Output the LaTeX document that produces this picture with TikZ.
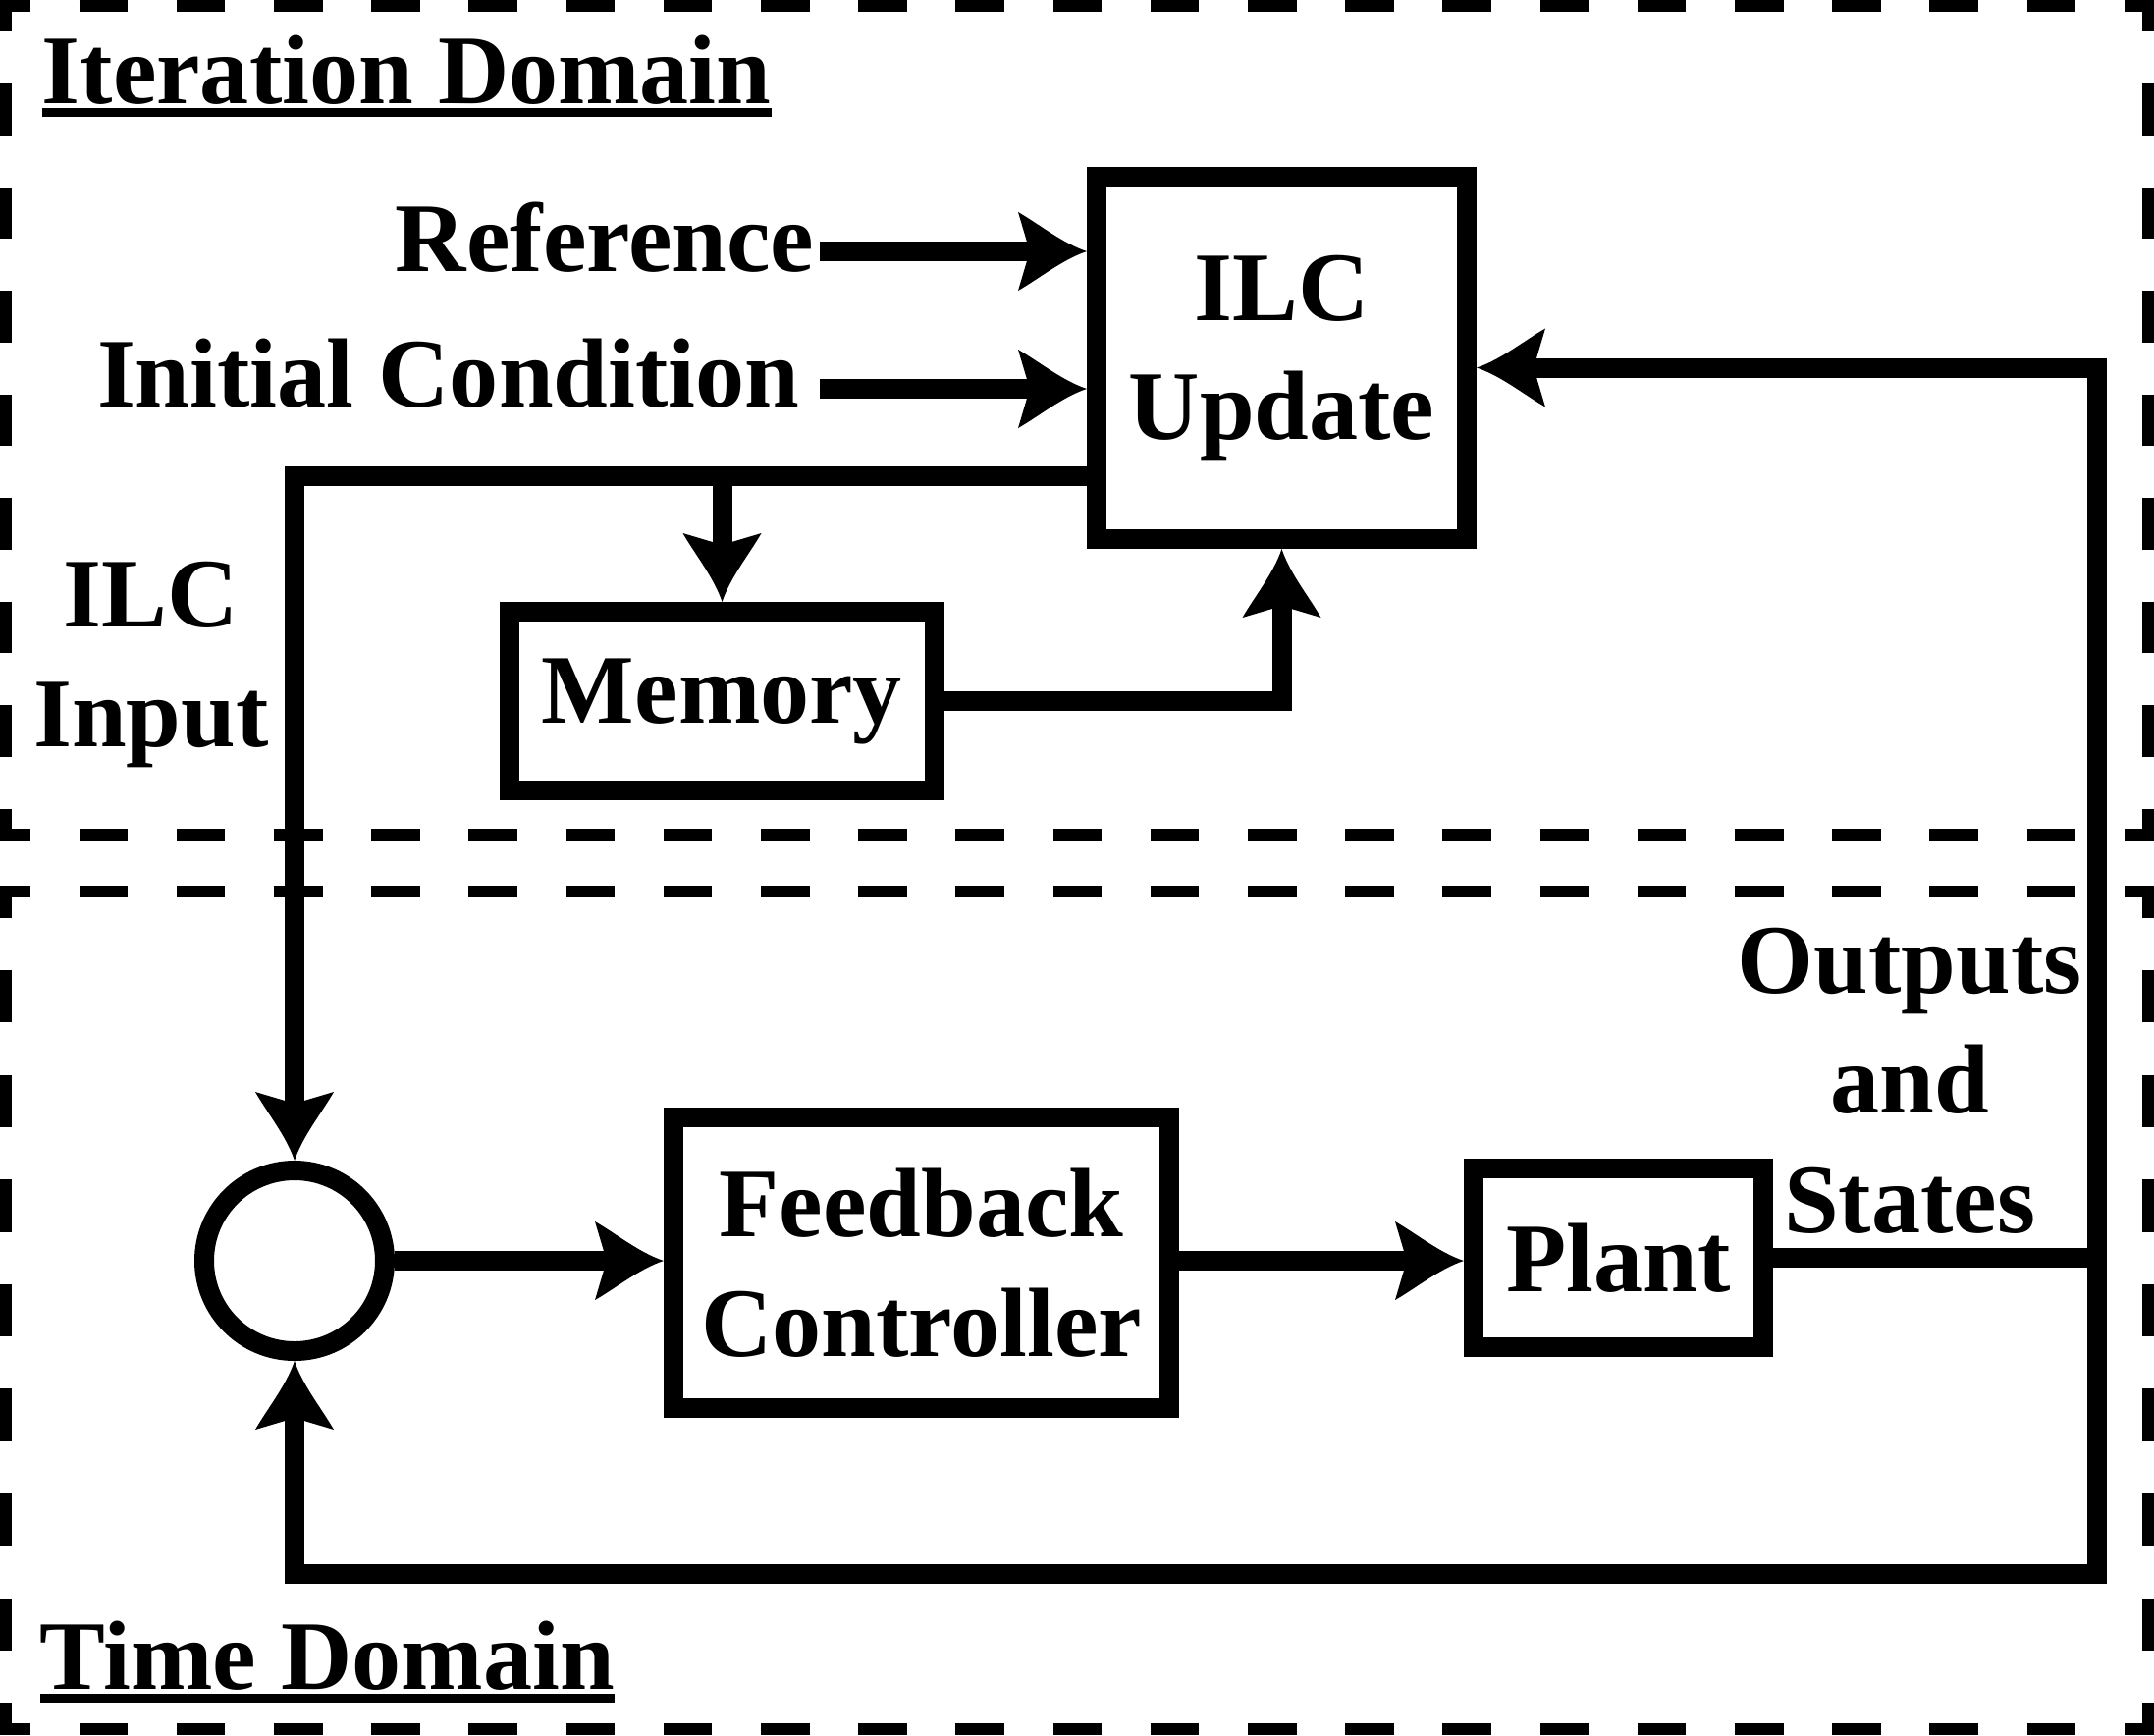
\documentclass[tikz,border=0pt]{standalone}
\usepackage{fontspec}
\setmainfont{Liberation Serif}
\usetikzlibrary{positioning,arrows.meta}
\newcommand{\domainline}[1]{\setbox0=\hbox{#1}\rlap{\rule[-1.4mm]{\wd0}{0.9mm}}\box0}
% arrow head with hollow-curved sides
\pgfdeclarearrow{
  name=ILCbarb,
  parameters={\the\pgfarrowlength,\the\pgfarrowwidth},
  setup code={
    \pgfarrowssettipend{0pt}
    \pgfarrowssetbackend{-\pgfarrowlength}
    \pgfarrowssetlineend{-.7\pgfarrowlength}
    \pgfarrowssavethe\pgfarrowlength
    \pgfarrowssavethe\pgfarrowwidth
  },
  drawing code={
    \pgfpathmoveto{\pgfpointorigin}
    \pgfpathcurveto{\pgfpoint{-.35\pgfarrowlength}{.1\pgfarrowwidth}}{\pgfpoint{-.7\pgfarrowlength}{.35\pgfarrowwidth}}{\pgfpoint{-\pgfarrowlength}{.5\pgfarrowwidth}}
    \pgfpathlineto{\pgfpoint{-.83\pgfarrowlength}{0pt}}
    \pgfpathlineto{\pgfpoint{-\pgfarrowlength}{-.5\pgfarrowwidth}}
    \pgfpathcurveto{\pgfpoint{-.7\pgfarrowlength}{-.35\pgfarrowwidth}}{\pgfpoint{-.35\pgfarrowlength}{-.1\pgfarrowwidth}}{\pgfpointorigin}
    \pgfpathclose
    \pgfusepathqfill
  },
  defaults={length=7mm, width=8mm}
}
\tikzset{
  lbl/.style={font=\fontsize{28.5pt}{34.7pt}\selectfont\bfseries, align=center, inner sep=0pt},
  block/.style={lbl, draw, rectangle, line width=2mm},
  sumnode/.style={draw, circle, line width=2mm, minimum size=18.4mm, inner sep=0pt},
  wire/.style={line width=2mm},
  sig/.style={wire, -{ILCbarb[length=7mm, width=8mm]}},
  domainh/.style={line width=1.2mm, dash pattern=on 4.96mm off 4.96mm, dash phase=1.86mm},
  domainv/.style={line width=1.2mm, dash pattern=on 5.275mm off 5.275mm, dash phase=2.64mm},
}

\begin{document}
\begin{tikzpicture}[x=0.1mm, y=-0.1mm]
  \useasboundingbox (0,0) rectangle (2194,1767);

  % iteration and time domains
  \draw[domainh] (0,6) -- (2194,6);
  \draw[domainh] (0,850) -- (2194,850);
  \draw[domainv] (6,6) -- (6,850);
  \draw[domainv] (2188,6) -- (2188,850);
  \draw[domainh] (0,908) -- (2194,908);
  \draw[domainh] (0,1761) -- (2194,1761);
  \draw[domainv, dash pattern=on 5.33mm off 5.33mm, dash phase=2.66mm] (6,908) -- (6,1761);
  \draw[domainv, dash pattern=on 5.33mm off 5.33mm, dash phase=2.66mm] (2188,908) -- (2188,1761);

  \node[lbl, anchor=base west] (iterdom) at (42,105) {\domainline{Iteration Domain}};
  \node[lbl, anchor=base west] (timedom) at (40,1720) {\domainline{Time Domain}};

  \node[block, minimum width=37.7mm, minimum height=36.9mm] (ilc) at (1305.5,364.5) {ILC\\Update};
  \node[block, minimum width=43.3mm, minimum height=18.2mm] (mem) at (735.5,714) {Memory};
  \node[sumnode] (sum) at (300,1284) {};
  \node[block, minimum width=50.5mm, minimum height=29.6mm] (fc) at (938.5,1286) {Feedback\\Controller};
  \node[block, minimum width=29.5mm, minimum height=18.2mm] (plant) at (1648.5,1281) {Plant};

  \node[lbl, anchor=base east, inner xsep=0.5mm] (ref) at (835,276) {Reference};
  \node[lbl, anchor=base east, inner xsep=2mm] (init) at (835,414) {Initial Condition};
  \node[lbl] (ilcin) at (154,677) {ILC\\Input};
  \node[lbl] (outs) at (1945,1101) {Outputs\\and\\States};

  \coordinate (split) at (735.5,485);
  \coordinate (tap) at (2136,1285);
  \coordinate (ret) at (2136,1603);

  \draw[sig] ([yshift=2mm]ref.base east) -- ([yshift=2mm]ref.base east -| ilc.west);
  \draw[sig] ([yshift=1.8mm]init.base east) -- ([yshift=1.8mm]init.base east -| ilc.west);
  \draw[sig] (ilc.west |- split) -| (sum.north);
  \draw[sig] (split) -- (mem.north);
  \draw[sig] (mem.east) -| (ilc.south);

  \draw[sig] (sum.east) -- (sum.east -| fc.west);
  \draw[sig] (fc.east |- sum.east) -- (sum.east -| plant.west);
  \draw[wire] (plant.east) -- (plant.east -| tap);
  \draw[sig] (tap |- plant.east) |- ([yshift=-1mm]ilc.east);
  \draw[sig] (tap |- plant.east) -- (ret) -| (sum.south);

\end{tikzpicture}
\end{document}
